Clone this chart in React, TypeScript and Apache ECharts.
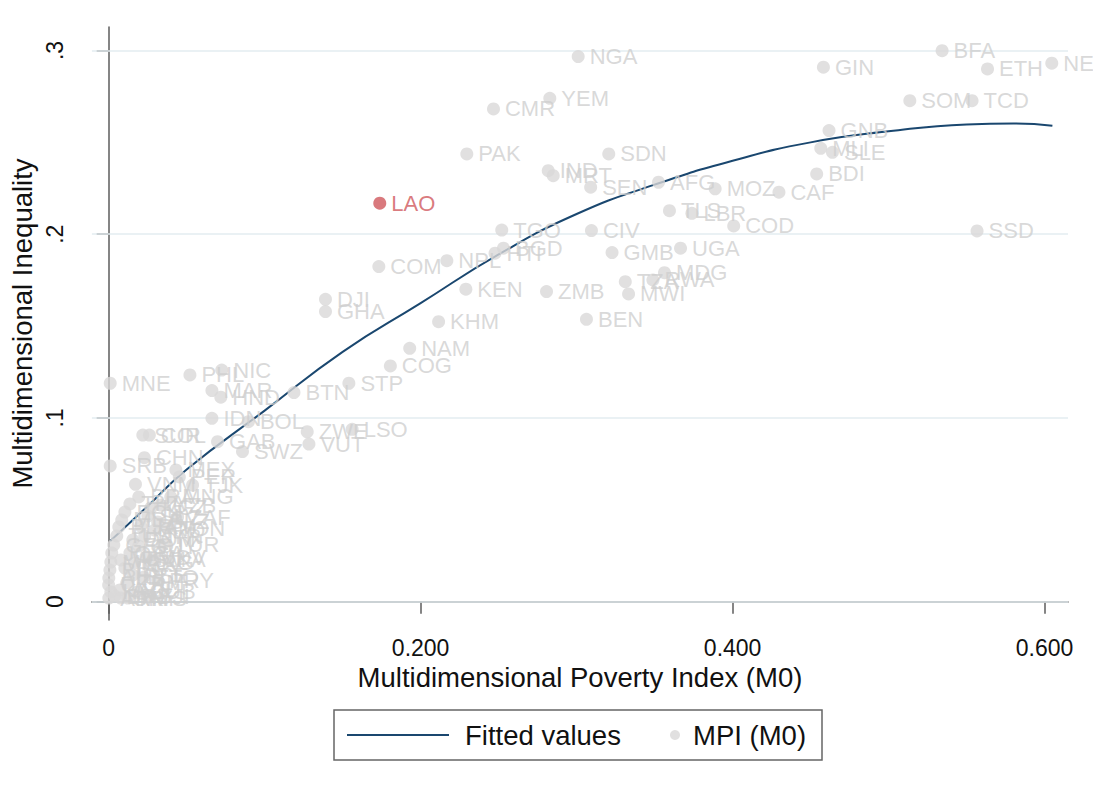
import React, { useEffect, useRef } from "react";
import * as echarts from "echarts";

// ---- data ----
const countries = [
  "NGA","CMR","YEM","BFA","GIN","ETH","NER","SOM","TCD","GNB","MLI","SLE","BDI","CAF","SSD",
  "PAK","SDN","IND","MRT","SEN","AFG","MOZ","TLS","LBR","COD","TGO","CIV","NPL","HTI","BGD",
  "GMB","UGA","MDG","TZA","RWA","MWI","KEN","ZMB","BEN","KHM","NAM","COG","STP","COM","DJI",
  "GHA","LAO","PHL","NIC","MAR","HND","BTN","IDN","BOL","ZWE","LSO","VUT","GAB","SWZ","MNE",
  "SUR","COL","SRB","CHN","MEX","PER","VNM","TJK","MNG","BRA","ZAF","UZB","KGZ","SLV","BLZ",
  "JAM","IRQ","SYR","DOM","GUY","LCA","MDV","ARG","EGY","PSE","TTO","TKM","AZE","THA","ECU",
  "MDA","BLR","TUN","GEO","JOR","MKD","BIH","ALB","UKR","KAZ","ARM","BRB","URY",
  "TUR","LKA","PRY","CUB","MYS","TON","FJI","WSM"
];
const mpi = [
  0.3010,0.2467,0.2828,0.5343,0.4582,0.5634,0.6046,0.5136,0.5535,0.4618,0.4565,0.4640,0.4539,0.4297,0.5567,
  0.2296,0.3206,0.2818,0.2850,0.3090,0.3525,0.3888,0.3595,0.3739,0.4007,0.2520,0.3095,0.2168,0.2477,0.2531,
  0.3227,0.3666,0.3563,0.3312,0.3489,0.3333,0.2290,0.2807,0.3063,0.2115,0.1930,0.1806,0.1540,0.1732,0.1390,
  0.1390,0.1738,0.0521,0.0725,0.0662,0.0719,0.1188,0.0662,0.0896,0.1273,0.1561,0.1284,0.0698,0.0858,0.0010,
  0.0219,0.0261,0.0010,0.0229,0.0431,0.0453,0.0172,0.0538,0.0398,0.0193,0.0442,0.0334,0.0270,0.0251,0.0314,
  0.0206,0.0295,0.0231,0.0155,0.0193,0.0136,0.0238,0.0167,0.0104,0.0155,0.0225,0.0116,0.0072,0.0136,0.0104,
  0.0084,0.0065,0.0052,0.0033,0.0020,0.0014,0.0008,0.0001,0.0000,0.0014,0.0001,0.0040,0.0078,
  0.0346,0.0282,0.0314,0.0186,0.0123,0.0378,0.0251,0.0078
];
const inequality = [
  0.2967,0.2682,0.2740,0.2999,0.2909,0.2900,0.2931,0.2727,0.2727,0.2564,0.2468,0.2446,0.2328,0.2229,0.2018,
  0.2437,0.2437,0.2346,0.2319,0.2256,0.2283,0.2247,0.2128,0.2114,0.2045,0.2023,0.2020,0.1856,0.1897,0.1924,
  0.1900,0.1924,0.1791,0.1742,0.1751,0.1675,0.1701,0.1688,0.1537,0.1524,0.1379,0.1283,0.1189,0.1824,0.1646,
  0.1579,0.2169,0.1234,0.1261,0.1149,0.1113,0.1138,0.0998,0.0980,0.0925,0.0938,0.0858,0.0871,0.0817,0.1189,
  0.0907,0.0907,0.0739,0.0784,0.0717,0.0679,0.0639,0.0635,0.0570,0.0570,0.0461,0.0526,0.0510,0.0466,0.0434,
  0.0412,0.0390,0.0357,0.0336,0.0303,0.0265,0.0243,0.0211,0.0183,0.0145,0.0134,0.0102,0.0064,0.0532,0.0488,
  0.0445,0.0407,0.0358,0.0308,0.0265,0.0216,0.0172,0.0129,0.0091,0.0053,0.0020,0.0031,0.0020,
  0.0309,0.0227,0.0118,0.0053,0.0020,0.0401,0.0031,0.0227
];
const highlighted = "LAO";

// fitted values (quadratic fit line)
const fitX = [0.001, 0.025, 0.05, 0.10, 0.15, 0.20, 0.25, 0.30, 0.35, 0.40, 0.45, 0.50, 0.55, 0.58, 0.605];
const fitY = [0.033, 0.052, 0.072, 0.104, 0.136, 0.1625, 0.189, 0.211, 0.227, 0.240, 0.250, 0.256, 0.2598, 0.2603, 0.2591];

const xTicks = [0, 0.2, 0.4, 0.6];
const yTicks = [0, 0.1, 0.2, 0.3];

const FONT = "'Liberation Sans', Arial, Helvetica, sans-serif";
const NAVY = "#1a476f";
const DOT = "#dad8d8";
const LABEL = "#cfcfcf";
const RED = "#d0585c";
const AXIS = "#5c5c5c";
const GRID = "#e3edf1";

export default function App() {
  const ref = useRef<HTMLDivElement>(null);

  useEffect(() => {
    const chart = echarts.init(ref.current!, null, { renderer: "svg" });

    const scatterData = countries.map((c, i) => {
      const item: any = { name: c, value: [mpi[i], inequality[i]] };
      if (c === highlighted) {
        item.itemStyle = { color: RED };
        item.label = { color: RED };
      }
      return item;
    });

    const option: any = {
      animation: false,
      backgroundColor: "#ffffff",
      textStyle: { fontFamily: FONT },
      grid: { left: 89, right: 25, top: 27, bottom: 173, containLabel: false },
      xAxis: {
        type: "value",
        min: -0.01074,
        max: 0.615,
        name: "Multidimensional Poverty Index (M0)",
        nameLocation: "middle",
        nameGap: 41,
        nameTextStyle: { fontSize: 27.5, color: "#111", fontFamily: FONT },
        axisLine: { show: true, lineStyle: { color: AXIS, width: 1.5 } },
        axisTick: { show: true, length: 12, customValues: xTicks, lineStyle: { color: AXIS, width: 1.5 } },
        axisLabel: {
          customValues: xTicks,
          margin: 16,
          fontSize: 23,
          color: "#111",
          fontFamily: FONT,
          formatter: (v: number) => (v === 0 ? "0" : v.toFixed(3)),
        },
        splitLine: { show: false },
      },
      yAxis: {
        type: "value",
        min: -0.00996,
        max: 0.3128,
        name: "Multidimensional Inequality",
        nameLocation: "middle",
        nameGap: 45,
        nameTextStyle: { fontSize: 27.5, color: "#111", fontFamily: FONT },
        axisLine: { show: true, lineStyle: { color: AXIS, width: 1.5 } },
        axisTick: { show: true, length: 12, customValues: yTicks, lineStyle: { color: AXIS, width: 1.5 } },
        axisLabel: {
          customValues: yTicks,
          rotate: 90,
          margin: 25,
          fontSize: 23,
          color: "#111",
          fontFamily: FONT,
          formatter: (v: number) => (v === 0 ? "0" : "." + Math.round(v * 10)),
        },
        splitLine: { show: false },
      },
      legend: [
        {
          data: [{ name: "Fitted values", icon: "rect" }],
          left: 347,
          top: 721,
          padding: 0,
          itemWidth: 102,
          itemHeight: 2,
          selectedMode: false,
          itemStyle: { color: NAVY },
          textStyle: { fontSize: 27.5, color: "#111", fontFamily: FONT, padding: [0, 0, 0, 11] },
        },
        {
          data: ["MPI (M0)"],
          left: 670,
          top: 721,
          padding: 0,
          itemWidth: 10,
          itemHeight: 10,
          selectedMode: false,
          textStyle: { fontSize: 27.5, color: "#111", fontFamily: FONT, padding: [0, 0, 0, 8] },
        },
      ],
      graphic: [
        {
          type: "rect",
          z: 0,
          shape: { x: 334, y: 710, width: 488, height: 50 },
          style: { fill: "#ffffff", stroke: "#666666", lineWidth: 1.5 },
          silent: true,
        },
      ],
      series: [
        {
          name: "Fitted values",
          type: "line",
          data: fitX.map((x, i) => [x, fitY[i]]),
          smooth: true,
          symbol: "none",
          lineStyle: { color: NAVY, width: 2 },
          itemStyle: { color: NAVY },
          z: 2,
          markLine: {
            silent: true,
            symbol: ["none", "none"],
            label: { show: false },
            lineStyle: { color: GRID, width: 1.5, type: "solid" },
            emphasis: { disabled: true },
            data: yTicks.map((v) => ({ yAxis: v })),
            z: 1,
          },
        },
        {
          name: "MPI (M0)",
          type: "scatter",
          data: scatterData,
          symbol: "circle",
          symbolSize: 13,
          clip: false,
          itemStyle: { color: DOT },
          z: 3,
          label: {
            show: true,
            position: "right",
            distance: 5,
            formatter: "{b}",
            fontSize: 22,
            color: LABEL,
            fontFamily: FONT,
          },
          emphasis: { disabled: true },
        },
      ],
    };

    chart.setOption(option);
    return () => chart.dispose();
  }, []);

  return (
    <div
      ref={ref}
      style={{ position: "absolute", left: 0, top: 0, width: 1093, height: 793, background: "#ffffff" }}
    />
  );
}
